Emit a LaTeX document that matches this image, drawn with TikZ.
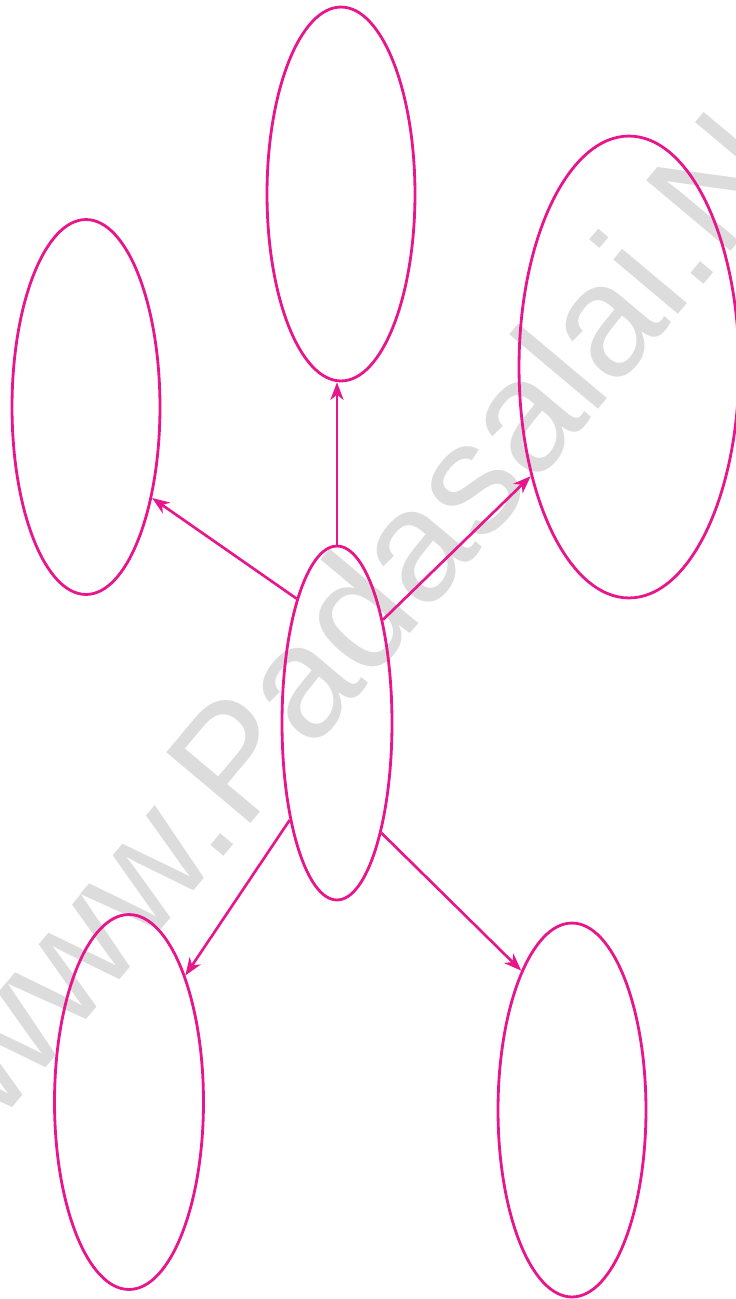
\documentclass[tikz,border=0pt]{standalone}
\usepackage{fontspec}
\setmainfont{Liberation Sans}
\usetikzlibrary{
  positioning,
  arrows.meta,
  shapes.geometric
}
\definecolor{bubble}{HTML}{E8168C}
\definecolor{wmgray}{HTML}{DCDCDC}

\begin{document}
\begin{tikzpicture}[x=0.02cm, y=-0.02cm,
    oval/.style={ellipse, draw=bubble, line width=1.6pt, inner sep=0pt},
    link/.style={draw=bubble, line width=1.5pt,
      -{Stealth[length=10pt, width=7.5pt, inset=3pt]}}]
  \useasboundingbox (0,0) rectangle (736,1299);

  % Watermark
  \node[text=wmgray, rotate=50, anchor=base west, inner sep=0pt,
    font=\fontsize{91}{91}\selectfont] (wm) at (-3,1126) {www.Padasalai.Net};

  % Ovals
  \node[oval, minimum width=2.20cm, minimum height=7.08cm] (hub) at (337,723) {};
  \node[oval, minimum width=2.96cm, minimum height=7.48cm] (up) at (341,194) {};
  \node[oval, minimum width=2.96cm, minimum height=7.50cm] (west) at (86,407) {};
  \node[oval, minimum width=4.40cm, minimum height=9.24cm] (east) at (629,367) {};
  \node[oval, minimum width=2.98cm, minimum height=7.50cm] (sw) at (129,1102) {};
  \node[oval, minimum width=2.96cm, minimum height=7.48cm] (se) at (572,1110) {};

  % Arrows
  \draw[link] (hub.north) -- (hub.north |- up.south);
  \draw[link] (hub.108) -- (west.306);
  \draw[link] (hub.66) -- (east.228);
  \draw[link] (hub.244) -- (sw.66);
  \draw[link] (hub.292) -- (se.110);
\end{tikzpicture}
\end{document}
